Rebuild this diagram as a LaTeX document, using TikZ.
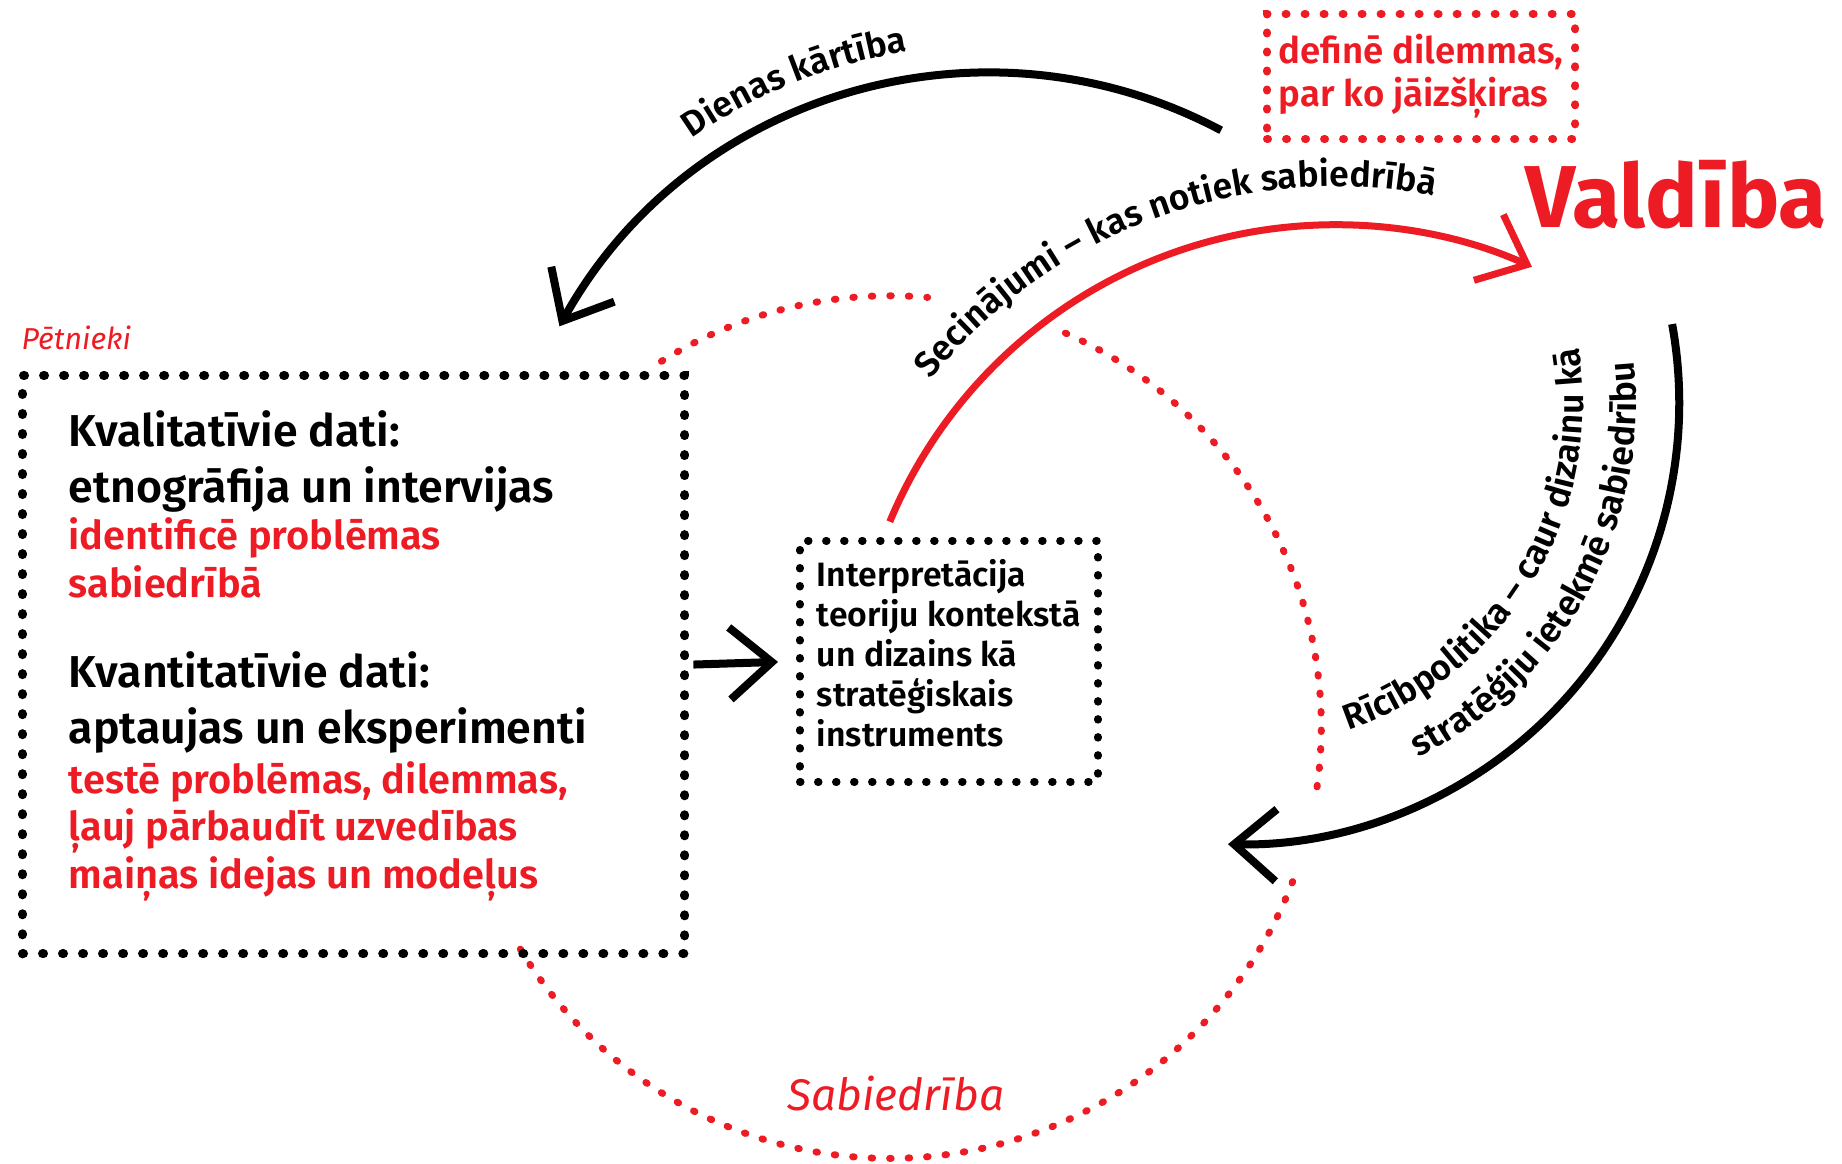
\documentclass[tikz,border=0pt]{standalone}
\usepackage{fontspec}
\setmainfont{Fira Sans}
\newfontfamily\semifont{Fira Sans SemiBold}
\usetikzlibrary{arrows.meta,decorations.text,positioning}
\definecolor{vred}{RGB}{237,28,36}
\newcommand\arcfont{\semifont\fontsize{10.1}{12}\selectfont}

\tikzset{
  dotbox/.style={draw, line width=0.09cm, dash pattern=on 0.01cm off 0.19cm, line cap=round},
  reddots/.style={draw=vred, line width=0.07cm, dash pattern=on 0.015cm off 0.17cm, line cap=round},
  flow/.style={line width=0.08cm, -{Straight Barb[length=0.42cm,width=0.72cm]}},
  boxtext/.style={inner sep=0pt, anchor=base west, align=left},
}

\begin{document}
\begin{tikzpicture}[x=0.01cm, y=-0.01cm]
\useasboundingbox (0,0) rectangle (1842,1163);

% the society circle, in three pieces
\draw[reddots] ([shift={(122:4.31cm)}]890,727) arc[start angle=122, end angle=85, radius=4.31cm];
\draw[reddots] ([shift={(66:4.31cm)}]890,727) arc[start angle=66, end angle=-8, radius=4.31cm];
\draw[reddots] ([shift={(-21:4.31cm)}]890,727) arc[start angle=-21, end angle=-149, radius=4.31cm];

% boxes
\node[dotbox, minimum width=6.62cm, minimum height=5.78cm, anchor=north west] (petbox) at (18,371) {};
\node[dotbox, line width=0.075cm, dash pattern=on 0.01cm off 0.17cm, minimum width=2.98cm, minimum height=2.41cm, anchor=north west, align=left, text depth=0.17cm, font=\semifont\fontsize{9.6}{11.4}\selectfont] (interp) at (796,537) {Interpretācija\\teoriju kontekstā\\un dizains kā\\stratēģiskais\\instruments};
\node[reddots, line width=0.08cm, dash pattern=on 0.01cm off 0.18cm, minimum width=3.08cm, minimum height=1.25cm, anchor=north west, align=left, text=vred, font=\semifont\fontsize{10.4}{12.2}\selectfont] (dilemmas) at (1263,10) {definē dilemmas,\\par ko jāizšķiras};

% labels
\node[anchor=base west, inner sep=0pt, text=vred, font=\itshape\fontsize{8.6}{10}\selectfont] (petnieki) at (21,349) {Pētnieki};
\node[anchor=base, inner sep=0pt, text=vred, font=\itshape\fontsize{12.6}{15}\selectfont] (sabiedriba) at (896,1110) {Sabiedrība};
\node[anchor=base west, inner sep=0pt, text=vred, font=\bfseries\fontsize{25}{30}\selectfont] (valdiba) at (1525,227) {Valdība};

% text in the big box (base = last line)
\node[boxtext, font=\semifont\fontsize{12.7}{15.65}\selectfont] (kvalhead) at (68,502) {Kvalitatīvie dati:\\etnogrāfija un intervijas};
\node[boxtext, text=vred, font=\semifont\fontsize{11.3}{13.5}\selectfont] (kvalred) at (68,597) {identificē problēmas\\sabiedrībā};
\node[boxtext, font=\semifont\fontsize{12.7}{15.65}\selectfont] (kvanthead) at (68,743) {Kvantitatīvie dati:\\aptaujas un eksperimenti};
\node[boxtext, text=vred, font=\semifont\fontsize{11.3}{13.5}\selectfont] (kvantred) at (68,888) {testē problēmas, dilemmas,\\ļauj pārbaudīt uzvedības\\maiņas idejas un modeļus};

% arrows
\coordinate (dienasstart) at ([shift={(62:4.92cm)}]990,565);
\draw[flow] (dienasstart) arc[start angle=62, end angle=151, radius=4.92cm];
\coordinate (secstart) at ([shift={(157.4:4.82cm)}]1335,707);
\draw[flow, draw=vred, line width=0.07cm] (secstart) arc[start angle=157.4, end angle=65.9, radius=4.82cm];
\coordinate (ricstart) at ([shift={(10.3:4.41cm)}]1238,403);
\draw[flow] (ricstart) arc[start angle=10.3, end angle=-91.3, radius=4.41cm];
\draw[flow, shorten <=0.04cm, shorten >=0.18cm] (petbox.east) -- (interp.west);

% arc labels
\path[decorate, decoration={text along path, text align=center, text={|\arcfont|Dienas kārtība}}] ([shift={(132:5.2cm)}]990,565) arc[start angle=132, end angle=92, radius=5.2cm];
\path[decorate, decoration={text along path, text align=center, text={|\arcfont|Secinājumi – kas notiek sabiedrībā}}] ([shift={(150:5.2cm)}]1335,707) arc[start angle=150, end angle=70, radius=5.2cm];
\path[decorate, decoration={text along path, text align=center, text={|\arcfont|Rīcībpolitika – caur dizainu kā}}] ([shift={(-86:3.45cm)}]1238,403) arc[start angle=-86, end angle=24, radius=3.45cm];
\path[decorate, decoration={text along path, text align=center, text={|\arcfont|stratēģiju ietekmē sabiedrību}}] ([shift={(-83:3.98cm)}]1238,403) arc[start angle=-83, end angle=26, radius=3.98cm];
\end{tikzpicture}
\end{document}
